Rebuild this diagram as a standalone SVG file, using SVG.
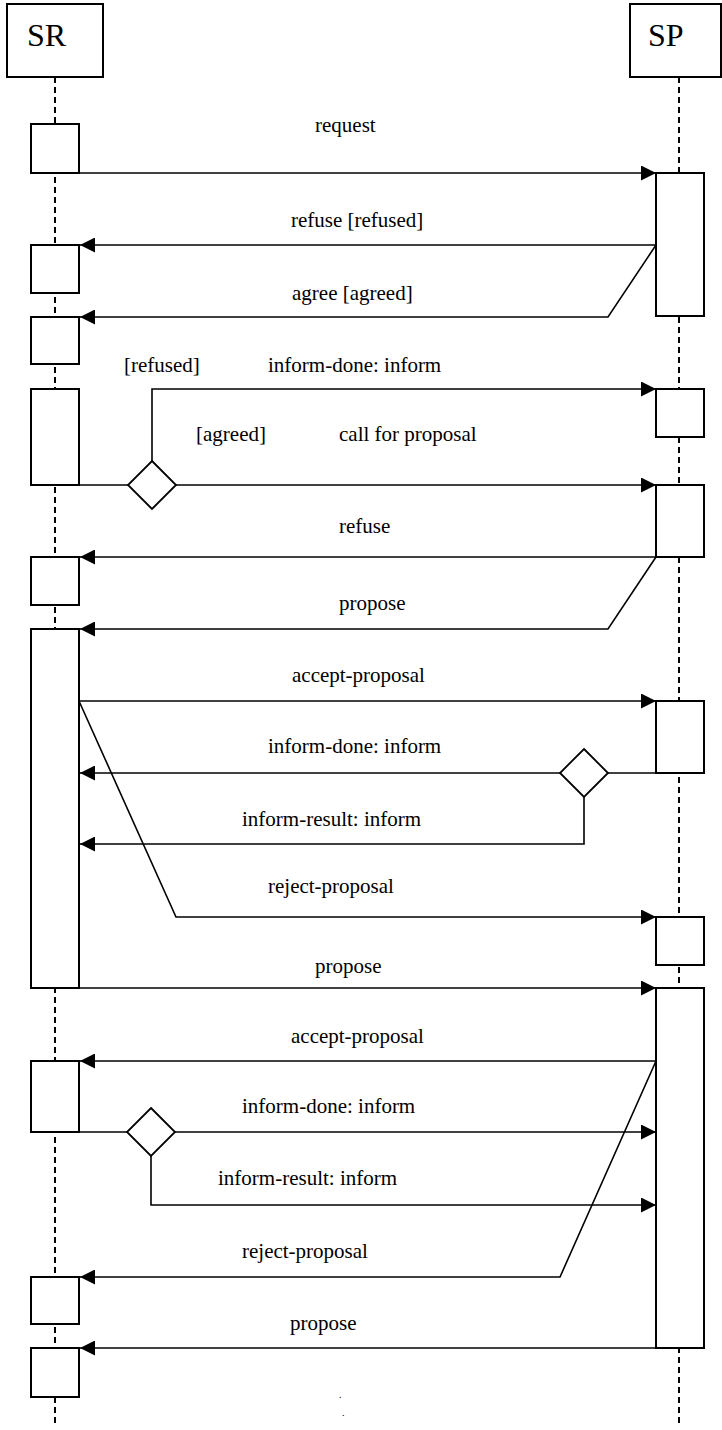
<svg xmlns="http://www.w3.org/2000/svg" width="722" height="1430" viewBox="0 0 722 1430">
<style>
.box{fill:#fff;stroke:#000;stroke-width:2}
.life{fill:none;stroke:#000;stroke-width:2;stroke-dasharray:6,4}
.ln{fill:none;stroke:#000;stroke-width:1.6}
.ar{fill:none;stroke:#000;stroke-width:1.6;marker-end:url(#ah)}
.t{font-family:"Liberation Serif","Times New Roman",serif;font-size:21px;fill:#000}
.h{font-family:"Liberation Serif","Times New Roman",serif;font-size:32px;fill:#000}
.dm{fill:#fff;stroke:#000;stroke-width:1.8}
</style>
<defs>
<marker id="ah" markerUnits="userSpaceOnUse" markerWidth="15" markerHeight="15" refX="15" refY="7.5" orient="auto" viewBox="0 0 15 15">
<path d="M0,0 L15,7.5 L0,15 z" fill="#000"/>
</marker>
</defs>
<rect width="722" height="1430" fill="#fff"/>
<g id="lifelines">
<line class="life" x1="55" y1="77" x2="55" y2="1424"/>
<line class="life" x1="679" y1="77" x2="679" y2="1424"/>
</g>
<g id="SR"><rect class="box" x="7" y="4" width="96" height="73"/><text class="h" x="27" y="46">SR</text></g>
<g id="SP"><rect class="box" x="630" y="4" width="91" height="73"/><text class="h" x="648" y="46">SP</text></g>
<g id="connectors">
<path class="ar" d="M79,173 H656"/>
<path class="ar" d="M656,245 H80"/>
<path class="ar" d="M656,245 L608,317 H80"/>
<path class="ar" d="M152,461 V389 H656"/>
<path class="ln" d="M79,485 H129"/>
<path class="ar" d="M176,485 H656"/>
<path class="ar" d="M656,557 H80"/>
<path class="ar" d="M656,557 L608,629 H80"/>
<path class="ar" d="M79,701 H656"/>
<path class="ln" d="M656,773 H608"/>
<path class="ar" d="M560,773 H80"/>
<path class="ar" d="M584,797 V844 H80"/>
<path class="ar" d="M79,701 L176,917 H656"/>
<path class="ar" d="M79,988 H656"/>
<path class="ar" d="M656,1061 H80"/>
<path class="ln" d="M79,1132 H127"/>
<path class="ar" d="M175,1132 H656"/>
<path class="ar" d="M151,1156 V1205 H656"/>
<path class="ar" d="M656,1061 L560,1277 H80"/>
<path class="ar" d="M656,1348 H80"/>
</g>
<g id="sr-act1"><rect class="box" x="31" y="124" width="48" height="49"/></g>
<g id="sr-act2"><rect class="box" x="31" y="245" width="48" height="48"/></g>
<g id="sr-act3"><rect class="box" x="31" y="317" width="48" height="47"/></g>
<g id="sr-act4"><rect class="box" x="31" y="389" width="48" height="96"/></g>
<g id="sr-act5"><rect class="box" x="31" y="557" width="48" height="48"/></g>
<g id="sr-act6"><rect class="box" x="31" y="629" width="48" height="359"/></g>
<g id="sr-act7"><rect class="box" x="31" y="1061" width="48" height="71"/></g>
<g id="sr-act8"><rect class="box" x="31" y="1277" width="48" height="47"/></g>
<g id="sr-act9"><rect class="box" x="31" y="1348" width="48" height="49"/></g>
<g id="sp-act1"><rect class="box" x="656" y="173" width="48" height="143"/></g>
<g id="sp-act2"><rect class="box" x="656" y="389" width="48" height="48"/></g>
<g id="sp-act3"><rect class="box" x="656" y="485" width="48" height="72"/></g>
<g id="sp-act4"><rect class="box" x="656" y="701" width="48" height="72"/></g>
<g id="sp-act5"><rect class="box" x="656" y="917" width="48" height="48"/></g>
<g id="sp-act6"><rect class="box" x="656" y="988" width="48" height="360"/></g>
<g id="decision1"><path class="dm" d="M152,461 L176,485 L152,509 L128,485 z"/></g>
<g id="decision2"><path class="dm" d="M584,749 L608,773 L584,797 L560,773 z"/></g>
<g id="decision3"><path class="dm" d="M151,1108 L175,1132 L151,1156 L127,1132 z"/></g>
<g id="labels">
<text class="t" x="315" y="132">request</text>
<text class="t" x="291" y="227">refuse [refused]</text>
<text class="t" x="292" y="300">agree [agreed]</text>
<text class="t" x="124" y="372">[refused]</text>
<text class="t" x="268" y="372">inform-done: inform</text>
<text class="t" x="196" y="441">[agreed]</text>
<text class="t" x="339" y="441">call for proposal</text>
<text class="t" x="339" y="533">refuse</text>
<text class="t" x="339" y="610">propose</text>
<text class="t" x="292" y="682">accept-proposal</text>
<text class="t" x="268" y="753">inform-done: inform</text>
<text class="t" x="242" y="826">inform-result: inform</text>
<text class="t" x="268" y="893">reject-proposal</text>
<text class="t" x="315" y="973">propose</text>
<text class="t" x="291" y="1043">accept-proposal</text>
<text class="t" x="242" y="1113">inform-done: inform</text>
<text class="t" x="218" y="1185">inform-result: inform</text>
<text class="t" x="242" y="1258">reject-proposal</text>
<text class="t" x="290" y="1330">propose</text>
<text class="t" x="339" y="1398" style="font-size:10px">.</text>
<text class="t" x="342" y="1416" style="font-size:10px">.</text>
</g>
</svg>
